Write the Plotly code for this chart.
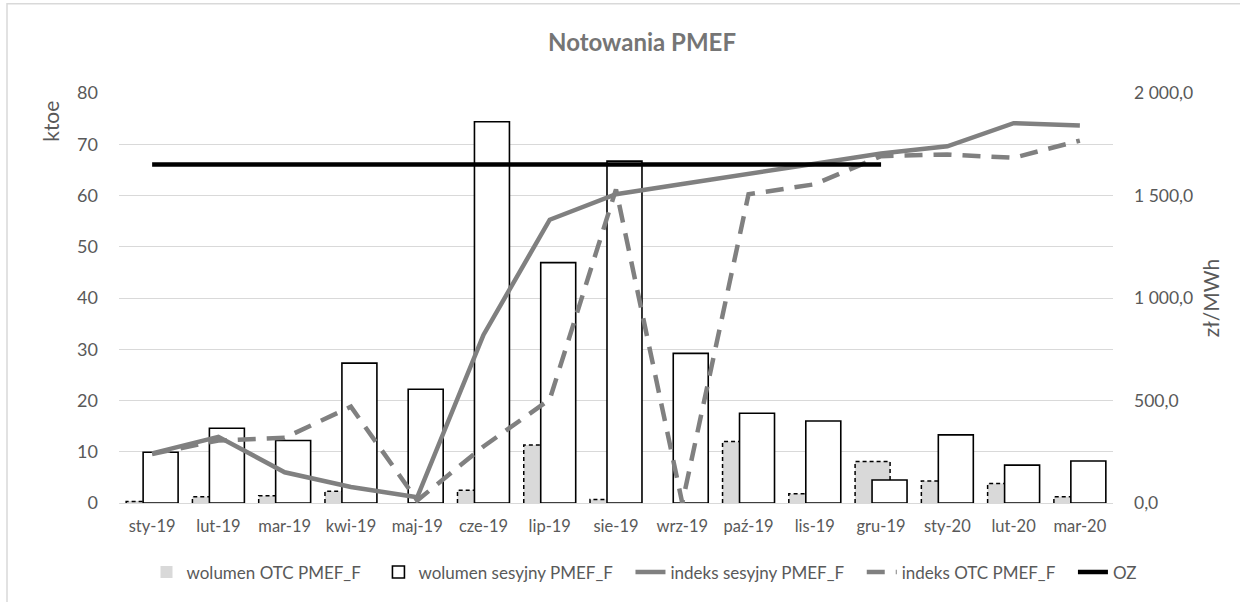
import plotly.graph_objects as go

categories = ['sty-19', 'lut-19', 'mar-19', 'kwi-19', 'maj-19', 'cze-19', 'lip-19', 'sie-19',
              'wrz-19', 'paź-19', 'lis-19', 'gru-19', 'sty-20', 'lut-20', 'mar-20']
wolumen_otc = [0.3, 1.2, 1.4, 2.3, 0.0, 2.5, 11.3, 0.7, 0.0, 12.0, 1.8, 8.1, 4.3, 3.8, 1.2]
wolumen_sesyjny = [9.9, 14.6, 12.2, 27.3, 22.2, 74.4, 46.9, 66.7, 29.2, 17.5, 16.0, 4.5, 13.3, 7.4, 8.2]
indeks_sesyjny = [242, 323, 150, 78, 28, 820, 1382, 1506, 1556, 1608, 1655, 1705, 1740, 1853, 1842]
indeks_otc = [239, 305, 318, 470, 12, 276, 505, 1530, 0, 1506, 1555, 1692, 1700, 1684, 1768]
oz = [1651] * 12 + [None] * 3

FONT = "Lato"
GREY_TXT = "#595959"
GRID = "#D9D9D9"
PAD = "\u00a0" * 3  # extra spacing between legend entries

x_idx = list(range(len(categories)))
BAR_W = 0.528
OTC_OFF = -0.392
SES_OFF = -0.136

fig = go.Figure()

# OTC volume bars (grey fill, dashed outline drawn separately)
fig.add_trace(go.Bar(
    x=x_idx, y=wolumen_otc, name="wolumen OTC PMEF_F" + PAD,
    width=BAR_W, offset=OTC_OFF,
    marker=dict(color="#D9D9D9", line=dict(color="black", width=0)),
    yaxis="y",
))
# session volume bars (drawn over the OTC bars)
fig.add_trace(go.Bar(
    x=x_idx, y=wolumen_sesyjny, name="wolumen sesyjny PMEF_F" + PAD,
    width=BAR_W, offset=SES_OFF,
    marker=dict(color="white", line=dict(color="black", width=1.6)),
    yaxis="y",
))
# visible part of the dashed outline of the OTC bars, built from the data
ox, oy = [], []
for i, v, s in zip(x_idx, wolumen_otc, wolumen_sesyjny):
    if v and v > 0:
        l = i + OTC_OFF
        r = l + BAR_W
        sl = i + SES_OFF
        if v > s:
            ox += [l, l, r, r, None]
            oy += [0, v, v, s, None]
        else:
            ox += [l, l, sl, None]
            oy += [0, v, v, None]
fig.add_trace(go.Scatter(
    x=ox, y=oy, mode="lines", line=dict(color="black", width=1.5, dash="4px,3px"),
    showlegend=False, hoverinfo="skip", yaxis="y",
))
fig.add_trace(go.Scatter(
    x=x_idx, y=indeks_sesyjny, name="indeks sesyjny PMEF_F" + PAD, mode="lines",
    line=dict(color="#808080", width=4.5), yaxis="y2",
))
fig.add_trace(go.Scatter(
    x=x_idx, y=indeks_otc, name="indeks OTC PMEF_F" + PAD, mode="lines",
    line=dict(color="#808080", width=4.5, dash="18px,11px"), yaxis="y2",
))
fig.add_trace(go.Scatter(
    x=x_idx, y=oz, name="OZ", mode="lines",
    line=dict(color="black", width=4.5), yaxis="y2",
))

L, R, T, B = 119, 1113, 93, 506
W, H = 1240, 602

fig.update_layout(
    width=W, height=H,
    margin=dict(l=L, r=W - R, t=T, b=H - B, pad=0),
    paper_bgcolor="white", plot_bgcolor="white",
    barmode="overlay",
    separators=", ",
    font=dict(family=FONT, size=16, color=GREY_TXT),
    title=dict(
        text="<b>Notowania PMEF</b>", x=(642 - L) / (R - L), xref="paper", xanchor="center",
        y=1 - 43 / H, yref="container", yanchor="middle",
        font=dict(family=FONT, size=24, color="#757575"),
    ),
    xaxis=dict(
        range=[-0.5, len(categories) - 0.5], tickvals=x_idx, ticktext=categories,
        showgrid=False, zeroline=False, showline=True, linecolor=GRID, linewidth=1,
        ticks="", ticklabelstandoff=8, tickfont=dict(size=16.5, color=GREY_TXT),
    ),
    yaxis=dict(
        range=[0, 80], dtick=10, showgrid=True, gridcolor=GRID, gridwidth=1,
        zeroline=False, showline=False, ticks="", ticklabelstandoff=20,
        tickfont=dict(size=18, color=GREY_TXT),
    ),
    yaxis2=dict(
        range=[0, 2000], dtick=500, overlaying="y", side="right", showgrid=False,
        zeroline=False, showline=False, ticks="", tickformat=",.1f", ticklabelstandoff=20,
        tickfont=dict(size=17.5, color=GREY_TXT),
        title=dict(text="zł/MWh", standoff=12, font=dict(size=21, color=GREY_TXT)),
    ),
    legend=dict(
        orientation="h", x=(644 - L) / (R - L), xanchor="center",
        y=(B - 576) / (B - T), yanchor="middle",
        font=dict(size=17, color=GREY_TXT), traceorder="normal",
        itemwidth=30, bgcolor="rgba(0,0,0,0)",
    ),
    showlegend=True,
)

fig.add_annotation(
    text="ktoe", textangle=-90, xref="paper", yref="paper",
    x=(51 - L) / (R - L), y=(B - 122) / (B - T), xanchor="center", yanchor="middle",
    showarrow=False, font=dict(family=FONT, size=21, color=GREY_TXT),
)

# chart-area border (light grey), as in the source
fig.add_shape(
    type="rect", xref="paper", yref="paper",
    x0=(7 - L) / (R - L), x1=(1300 - L) / (R - L),
    y0=(B - 700) / (B - T), y1=(B - 3) / (B - T),
    line=dict(color=GRID, width=1.5), fillcolor="rgba(0,0,0,0)", layer="below",
)

fig.write_html("out.html")
